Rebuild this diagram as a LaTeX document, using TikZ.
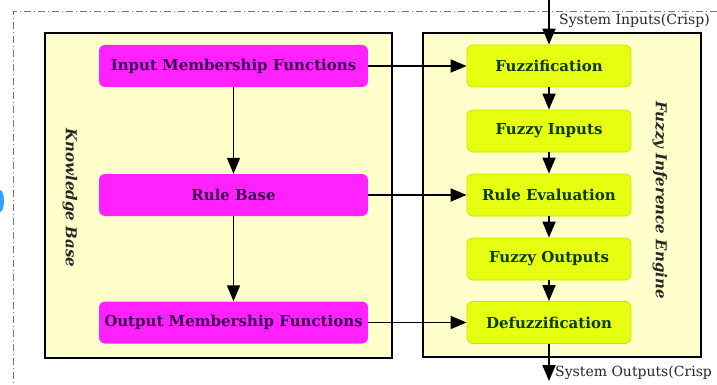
\documentclass[tikz,border=0pt]{standalone}
\usepackage{fontspec}
\setmainfont{DejaVu Serif}
\usetikzlibrary{arrows.meta}
\definecolor{panelfill}{HTML}{FFFFCC}
\definecolor{kbfill}{HTML}{FF22FF}
\definecolor{kbtext}{HTML}{3A0052}
\definecolor{fiefill}{HTML}{E6FF10}
\definecolor{fiedraw}{HTML}{D2E000}
\definecolor{fietext}{HTML}{0E3A00}
\definecolor{framegray}{HTML}{7A7A70}
\tikzset{
  panel/.style={draw=black, line width=2.8pt, fill=panelfill, inner sep=0pt},
  kbbox/.style={fill=kbfill, rounded corners=6pt, minimum width=269pt, minimum height=42pt,
    text=kbtext, font=\fontsize{15}{17}\selectfont\bfseries, inner sep=0pt},
  fiebox/.style={draw=fiedraw, line width=0.8pt, fill=fiefill, rounded corners=6pt,
    minimum width=164pt, minimum height=42pt, text=fietext,
    font=\fontsize{15}{17}\selectfont\bfseries, inner sep=0pt},
  flow/.style={line width=1.8pt, -{Triangle[length=16pt,width=13pt]}},
  paneltitle/.style={font=\fontsize{15}{17}\selectfont\bfseries\itshape, text=black!85, rotate=-90},
  iolabel/.style={font=\fontsize{14}{16}\selectfont, text=black!85, anchor=west, inner sep=0pt}
}
\begin{document}
\begin{tikzpicture}[x=1pt,y=-1pt]
\useasboundingbox (0,0) rectangle (717,385);
% outer dash-dotted frame (only top and left edges lie on the page)
\draw[framegray, line width=1pt, dash pattern=on 7pt off 3pt on 1pt off 3pt] (717,12) -- (13,12) -- (13,385);
\fill[blue!45!cyan!80] (0,190) arc[start angle=-90, end angle=90, x radius=4pt, y radius=-11pt];

% panels
\node[panel, minimum width=347pt, minimum height=325pt] (kb) at (218.5,195.5) {};
\node[panel, minimum width=278pt, minimum height=324pt] (fie) at (562,195) {};
\node[paneltitle] (kbt) at (70,198) {Knowledge Base};
\node[paneltitle] (fiet) at (660,200) {Fuzzy Inference Engine};

% knowledge base blocks
\node[kbbox] (imf) at (233.5,66) {Input Membership Functions};
\node[kbbox] (rb)  at (233.5,195) {Rule Base};
\node[kbbox] (omf) at (233.5,322.5) {Output Membership Functions};

% inference engine blocks
\node[fiebox] (fz)  at (549,66) {Fuzzification};
\node[fiebox] (fi)  at (549,131) {Fuzzy Inputs};
\node[fiebox] (re)  at (549,195) {Rule Evaluation};
\node[fiebox] (fo)  at (549,259) {Fuzzy Outputs};
\node[fiebox] (dfz) at (549,322.5) {Defuzzification};

% crisp input and output
\coordinate (in) at (549,0);
\coordinate (out) at (549,381);
\node[iolabel] (inl) at (559,21) {System Inputs(Crisp)};
\node[iolabel] (outl) at (555,373) {System Outputs(Crisp};

% connectors
\draw[flow] (in) -- (fz);
\draw[flow] (fz) -- (fi);
\draw[flow] (fi) -- (re);
\draw[flow] (re) -- (fo);
\draw[flow] (fo) -- (dfz);
\draw[flow] (dfz) -- (out);
\draw[flow] (imf) -- (rb);
\draw[flow] (rb) -- (omf);
\draw[flow] (imf) -- (fz);
\draw[flow] (rb) -- (re);
\draw[flow] (omf) -- (dfz);
\end{tikzpicture}
\end{document}
